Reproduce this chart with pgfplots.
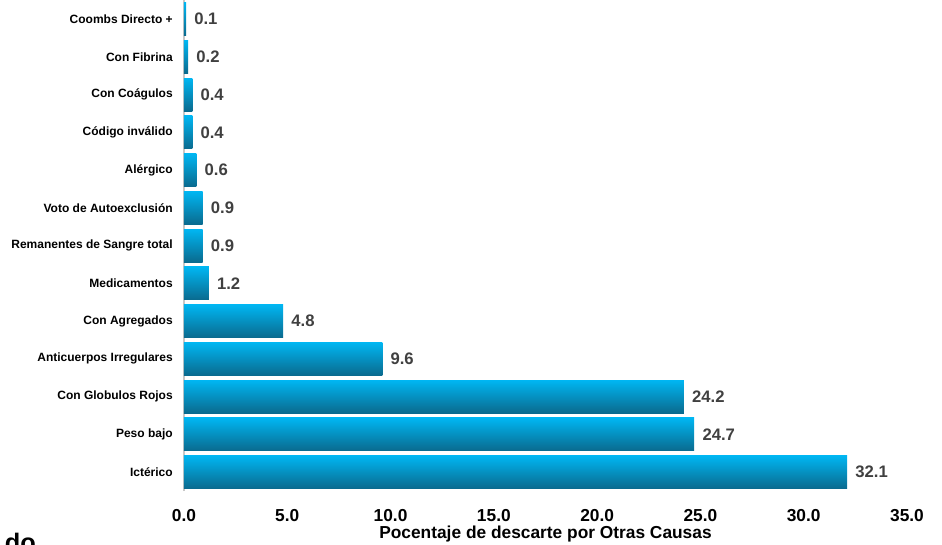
\documentclass[border=0pt]{standalone}
\usepackage{pgfplots}
\pgfplotsset{compat=1.18}
\usepackage{fontspec}
\setmainfont{Liberation Sans}
\definecolor{barTop}{HTML}{00B6F2}
\definecolor{barBot}{HTML}{0A6A8E}
\definecolor{valGray}{HTML}{404040}
\definecolor{axGray}{HTML}{C8C8C8}
\pgfplotsset{gbar/.style={xbar, bar shift=0pt, draw=none, top color=barTop, bottom color=barBot}}
\begin{document}
\begin{tikzpicture}
\begin{axis}[
  at={(138pt,-368.25pt)}, anchor=south west,
  scale only axis,
  width=542.25pt, height=368.06pt,
  xmin=0, xmax=35, ymin=-0.5, ymax=12.5,
  xbar, bar width=0.87,
  axis lines*=left,
  x axis line style={draw=none},
  y axis line style={draw=axGray, line width=1.2pt, -},
  major tick length=0pt,
  xtick={0,5,...,35},
  ytick={0,...,12},
  yticklabels={Ictérico,Peso bajo,Con Globulos Rojos,Anticuerpos Irregulares,Con Agregados,Medicamentos,Remanentes de Sangre total,Voto de Autoexclusión,Alérgico,Código inválido,Con Coágulos,Con Fibrina,Coombs Directo +},
  yticklabel style={font=\bfseries\fontsize{9}{9}\selectfont, inner sep=0pt, xshift=-8.25pt},
  xticklabel style={font=\bfseries\fontsize{13}{13}\selectfont, inner sep=0pt, anchor=north, yshift=-13.5pt},
  /pgf/number format/assume math mode=true,
  xticklabel={\pgfmathprintnumber[fixed,precision=1,zerofill]{\tick}},
  xlabel={Pocentaje de descarte por Otras Causas},
  xlabel style={font=\bfseries\fontsize{13}{13}\selectfont, inner sep=0pt, at={(axis description cs:0.5,0)}, anchor=north, yshift=-26pt},
  nodes near coords={\pgfmathprintnumber[fixed,precision=1,zerofill]{\pgfplotspointmeta}},
  nodes near coords style={font=\bfseries\fontsize{12.5}{12.5}\selectfont, text=valGray, anchor=west, inner sep=0pt, xshift=6pt},
  clip=false,
]
\addplot[gbar] coordinates {(32.1,0)};
\addplot[gbar] coordinates {(24.7,1)};
\addplot[gbar] coordinates {(24.2,2)};
\addplot[gbar] coordinates {(9.6,3)};
\addplot[gbar] coordinates {(4.8,4)};
\addplot[gbar] coordinates {(1.2,5)};
\addplot[gbar] coordinates {(0.9,6)};
\addplot[gbar] coordinates {(0.9,7)};
\addplot[gbar] coordinates {(0.6,8)};
\addplot[gbar] coordinates {(0.4,9)};
\addplot[gbar] coordinates {(0.4,10)};
\addplot[gbar] coordinates {(0.2,11)};
\addplot[gbar] coordinates {(0.1,12)};
\end{axis}
\node[anchor=north west, inner sep=0pt, font=\bfseries\fontsize{19}{19}\selectfont] at (3.5pt,-399.5pt) {do};
\pgfresetboundingbox
\useasboundingbox (0,0) rectangle (706.5pt,-408pt);
\end{tikzpicture}
\end{document}
